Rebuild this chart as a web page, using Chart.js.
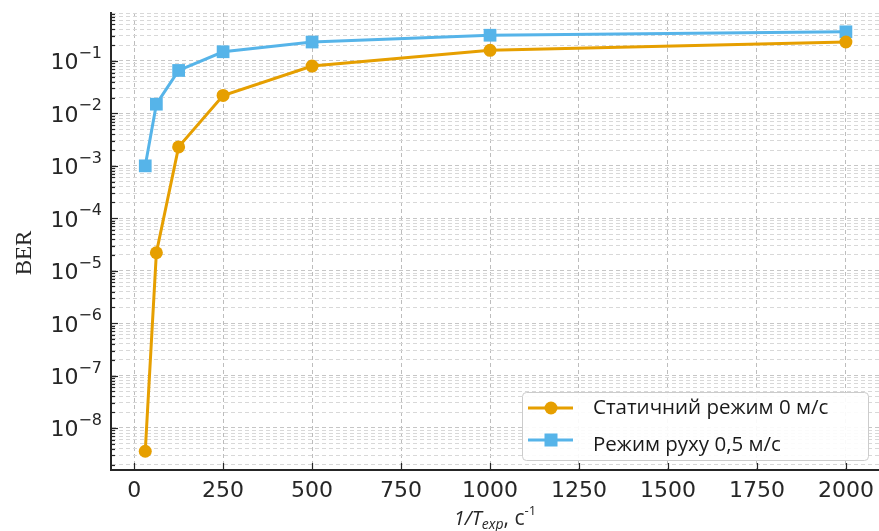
<!DOCTYPE html>
<html>
<head>
<meta charset="utf-8">
<script src="https://cdn.jsdelivr.net/npm/chart.js@4.4.1/dist/chart.umd.min.js"></script>
<style>
  html, body { margin: 0; padding: 0; background: #fff; }
  #wrap { width: 879px; height: 531px; }
</style>
</head>
<body>
<div id="wrap"><canvas id="berChart" width="879" height="531"></canvas></div>
<script>
// 1/T_exp values, s^-1
const freqs = [31.25, 62.5, 125, 250, 500, 1000, 2000];
// BER, static mode 0 m/s
const berStatic = [3.6e-9, 2.2e-5, 2.3e-3, 2.2e-2, 0.08, 0.16, 0.23];
// BER, moving mode 0.5 m/s
const berMoving = [1.0e-3, 1.5e-2, 6.6e-2, 0.15, 0.23, 0.31, 0.36];
const seriesLabels = ['Статичний режим 0 м/с', 'Режим руху 0,5 м/с'];
const xTickValues = [0, 250, 500, 750, 1000, 1250, 1500, 1750, 2000];
const yDecades = [-9, -8, -7, -6, -5, -4, -3, -2, -1, 0];

const ORANGE = '#E69F00';
const BLUE = '#56B4E9';
const INK = '#262626';

function toPoints(ys) {
  return freqs.map((f, i) => ({ x: f, y: ys[i] }));
}

// labels, inward ticks, axis titles and the legend box
const decorPlugin = {
  id: 'decor',
  afterDraw(chart) {
    const ctx = chart.ctx;
    const xs = chart.scales.x;
    const ys = chart.scales.y;
    const area = chart.chartArea;
    ctx.save();

    // inward tick marks
    ctx.strokeStyle = INK;
    ctx.lineWidth = 1.2;
    ys.ticks.forEach(t => {
      const y = Math.round(ys.getPixelForValue(t.value)) + 0.5;
      const len = t.major ? 7 : 4;
      ctx.beginPath();
      ctx.moveTo(area.left, y);
      ctx.lineTo(area.left + len, y);
      ctx.stroke();
    });
    xs.ticks.forEach(t => {
      const x = Math.round(xs.getPixelForValue(t.value)) + 0.5;
      ctx.beginPath();
      ctx.moveTo(x, area.bottom);
      ctx.lineTo(x, area.bottom - 7);
      ctx.stroke();
    });

    // y tick labels: 10^n
    ctx.fillStyle = INK;
    ctx.textBaseline = 'alphabetic';
    ys.ticks.filter(t => t.major).forEach(t => {
      const y = ys.getPixelForValue(t.value);
      const exp = Math.round(Math.log10(t.value));
      const sup = exp < 0 ? '\u2212' + Math.abs(exp) : String(exp);
      const right = area.left - 9;
      ctx.font = '16px "DejaVu Sans"';
      const supW = ctx.measureText(sup).width;
      ctx.textAlign = 'right';
      ctx.fillText(sup, right, y - 3);
      ctx.font = '22px "DejaVu Sans"';
      ctx.fillText('10', right - supW, y + 8.5);
    });

    // x tick labels
    ctx.font = '22px "DejaVu Sans"';
    ctx.textAlign = 'center';
    xs.ticks.forEach(t => {
      ctx.fillText(String(t.value), xs.getPixelForValue(t.value), 497);
    });

    // y axis title
    ctx.save();
    ctx.translate(23, 253);
    ctx.rotate(-Math.PI / 2);
    ctx.font = '23px "Liberation Serif"';
    ctx.textAlign = 'center';
    ctx.fillText('BER', 0, 8);
    ctx.restore();

    // x axis title: 1/T_exp, c^-1
    const parts = [
      { t: '1/T', font: 'italic 20px "Open Sans"', dy: 0 },
      { t: 'exp', font: 'italic 14px "Open Sans"', dy: 4 },
      { t: ', c', font: '21px "Open Sans"', dy: 0 },
      { t: '-1', font: '13px "Open Sans"', dy: -10 }
    ];
    let total = 0;
    parts.forEach(p => { ctx.font = p.font; p.w = ctx.measureText(p.t).width; total += p.w; });
    let px = 495 - total / 2;
    ctx.textAlign = 'left';
    parts.forEach(p => {
      ctx.font = p.font;
      ctx.fillText(p.t, px, 525 + p.dy);
      px += p.w;
    });

    // legend
    const box = { x: 522, y: 392, w: 346, h: 68 };
    ctx.fillStyle = 'rgba(255,255,255,0.9)';
    ctx.strokeStyle = '#cccccc';
    ctx.lineWidth = 1;
    ctx.beginPath();
    ctx.roundRect(box.x + 0.5, box.y + 0.5, box.w, box.h, 4);
    ctx.fill();
    ctx.stroke();
    const rowY = [408, 440];
    const textY = [414, 451];
    chart.data.datasets.forEach((ds, i) => {
      const y = rowY[i];
      ctx.strokeStyle = ds.borderColor;
      ctx.lineWidth = 3;
      ctx.beginPath();
      ctx.moveTo(528, y);
      ctx.lineTo(573, y);
      ctx.stroke();
      ctx.fillStyle = ds.backgroundColor;
      if (ds.pointStyle === 'rect') {
        ctx.fillRect(551 - 6.5, y - 6.5, 13, 13);
      } else {
        ctx.beginPath();
        ctx.arc(551, y, 6.5, 0, Math.PI * 2);
        ctx.fill();
      }
      ctx.fillStyle = '#1a1a1a';
      ctx.font = '20.5px "Open Sans"';
      ctx.textAlign = 'left';
      ctx.fillText(ds.label, 593, textY[i]);
    });

    ctx.restore();
  }
};

const ctx = document.getElementById('berChart').getContext('2d');
new Chart(ctx, {
  type: 'line',
  data: {
    datasets: [
      {
        label: seriesLabels[0],
        data: toPoints(berStatic),
        borderColor: ORANGE,
        backgroundColor: ORANGE,
        borderWidth: 3,
        pointStyle: 'circle',
        pointRadius: 6.5,
        pointBorderWidth: 0,
        tension: 0
      },
      {
        label: seriesLabels[1],
        data: toPoints(berMoving),
        borderColor: BLUE,
        backgroundColor: BLUE,
        borderWidth: 3,
        pointStyle: 'rect',
        pointRadius: 9,
        pointBorderWidth: 0,
        tension: 0
      }
    ]
  },
  options: {
    responsive: false,
    animation: false,
    layout: { autoPadding: false, padding: { top: 13, right: 0, left: 0, bottom: 0 } },
    plugins: {
      legend: { display: false },
      tooltip: { enabled: false }
    },
    scales: {
      x: {
        type: 'linear',
        min: -65,
        max: 2093,
        afterBuildTicks: scale => {
          scale.ticks = xTickValues.map(v => ({ value: v }));
        },
        afterFit: scale => { scale.height = 61; },
        ticks: { display: false },
        grid: { color: '#bdbdbd', lineWidth: 1, drawTicks: false },
        border: { display: true, color: INK, width: 2, dash: [4, 3] }
      },
      y: {
        type: 'logarithmic',
        min: 1.58e-9,
        max: 0.823,
        afterBuildTicks: scale => {
          const ticks = [];
          yDecades.forEach(e => {
            for (let m = 1; m <= 9; m++) {
              const v = m * Math.pow(10, e);
              if (v >= scale.min && v <= scale.max) ticks.push({ value: v, major: m === 1 });
            }
          });
          scale.ticks = ticks;
        },
        afterFit: scale => { scale.width = 111; },
        ticks: { display: false },
        grid: {
          color: c => (c.tick && c.tick.major ? '#c6c6c6' : '#d8d8d8'),
          lineWidth: 1,
          drawTicks: false
        },
        border: { display: true, color: INK, width: 2, dash: [4, 3] }
      }
    }
  },
  plugins: [decorPlugin]
});
</script>
</body>
</html>
